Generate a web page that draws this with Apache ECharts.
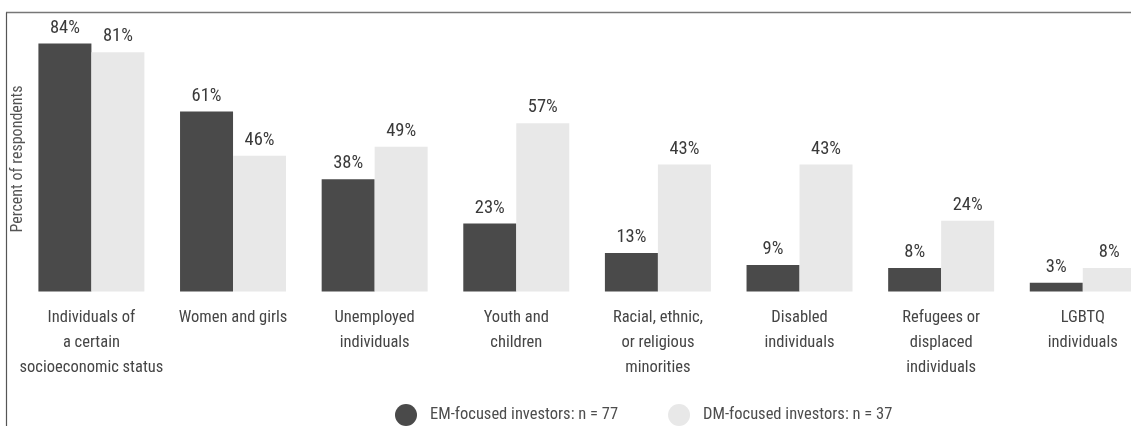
<!DOCTYPE html>
<html>
<head>
<meta charset="utf-8">
<title>Target populations</title>
<script src="https://cdn.jsdelivr.net/npm/echarts@6/dist/echarts.min.js"></script>
<style>
  html, body { margin: 0; padding: 0; background: #ffffff; }
  #chart { width: 1131px; height: 426px; }
</style>
</head>
<body>
<div id="chart"></div>
<script>
// Groups targeted by respondents' investments
const categories = [
  'Individuals of\na certain\nsocioeconomic status',
  'Women and girls',
  'Unemployed\nindividuals',
  'Youth and\nchildren',
  'Racial, ethnic,\nor religious\nminorities',
  'Disabled\nindividuals',
  'Refugees or\ndisplaced\nindividuals',
  'LGBTQ\nindividuals'
];
const emFocused = [84, 61, 38, 23, 13, 9, 8, 3];
const dmFocused = [81, 46, 49, 57, 43, 43, 24, 8];
const seriesNames = ['EM-focused investors: n = 77', 'DM-focused investors: n = 37'];
const yAxisTitle = 'Percent of respondents';

const FONT = "'Roboto Condensed', 'DejaVu Sans Condensed', sans-serif";
const DARK = '#4a4a4a';
const LIGHT = '#e8e8e8';

const chart = echarts.init(document.getElementById('chart'), null, { renderer: 'canvas' });

const valueLabel = {
  show: true,
  position: 'top',
  distance: 6,
  formatter: '{c}%',
  color: '#3a3a3a',
  fontFamily: FONT,
  fontSize: 18.5
};

chart.setOption({
  animation: false,
  backgroundColor: '#ffffff',
  textStyle: { fontFamily: FONT },
  // the plot runs past the right edge, so the last group is cut off there
  grid: {
    left: 20.6,
    width: 1133,
    top: 11,
    bottom: 134.5,
    containLabel: false,
    outerBoundsMode: 'none'
  },
  legend: {
    left: 390,
    top: 399,
    icon: 'circle',
    itemWidth: 22,
    itemHeight: 22,
    itemGap: 50,
    textStyle: { color: '#4d4d4d', fontFamily: FONT, fontSize: 16.5, padding: [0, 0, 0, 8] },
    data: seriesNames
  },
  xAxis: {
    type: 'category',
    data: categories,
    axisLine: { show: false },
    axisTick: { show: false },
    axisLabel: {
      color: '#454545',
      fontFamily: FONT,
      fontSize: 16.5,
      lineHeight: 25,
      margin: 14,
      interval: 0
    }
  },
  yAxis: {
    type: 'value',
    min: 0,
    max: 95,
    axisLine: { show: false },
    axisTick: { show: false },
    axisLabel: { show: false },
    splitLine: { show: false }
  },
  series: [
    {
      name: seriesNames[0],
      type: 'bar',
      data: emFocused,
      barWidth: 53,
      barGap: '0%',
      itemStyle: { color: DARK },
      label: valueLabel
    },
    {
      name: seriesNames[1],
      type: 'bar',
      data: dmFocused,
      barWidth: 53,
      barGap: '0%',
      itemStyle: { color: LIGHT },
      label: valueLabel
    }
  ],
  graphic: [
    {
      type: 'line',
      shape: { x1: 6, y1: 12.5, x2: 1131, y2: 12.5 },
      style: { stroke: '#777777', lineWidth: 1.5 }
    },
    {
      type: 'line',
      shape: { x1: 6.5, y1: 12.5, x2: 6.5, y2: 426 },
      style: { stroke: '#555555', lineWidth: 1.2 }
    },
    {
      // vertical axis title
      type: 'text',
      x: 18,
      y: 159,
      rotation: Math.PI / 2,
      style: {
        text: yAxisTitle,
        fontFamily: FONT,
        fontSize: 16,
        fill: '#555555',
        align: 'center',
        verticalAlign: 'middle'
      }
    }
  ]
});
</script>
</body>
</html>
